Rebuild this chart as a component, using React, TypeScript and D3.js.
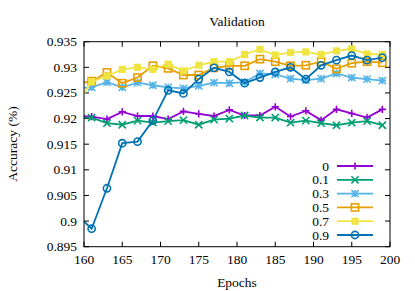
import React from "react";
import { scaleLinear, line, format, range } from "d3";

const epochs = [159, 161, 163, 165, 167, 169, 171, 173, 175, 177, 179, 181, 183, 185, 187, 189, 191, 193, 195, 197, 199];

const acc0 = [0.9205, 0.9204, 0.9199, 0.9213, 0.9205, 0.9205, 0.9199, 0.9214, 0.9209, 0.9205, 0.9217, 0.9206, 0.9206, 0.9223, 0.9204, 0.9215, 0.9197, 0.9218, 0.921, 0.9202, 0.9218];
const acc01 = [0.9202, 0.9202, 0.9191, 0.9188, 0.9196, 0.9192, 0.9195, 0.9197, 0.9188, 0.9198, 0.92, 0.9206, 0.9202, 0.9202, 0.9192, 0.9196, 0.9191, 0.9187, 0.9192, 0.9195, 0.9187];
const acc03 = [0.926, 0.9261, 0.9271, 0.9261, 0.927, 0.9265, 0.9261, 0.9259, 0.9264, 0.927, 0.9269, 0.9271, 0.9288, 0.9286, 0.9278, 0.9275, 0.9278, 0.9288, 0.928, 0.9277, 0.9274];
const acc05 = [0.9267, 0.9273, 0.929, 0.9269, 0.928, 0.9303, 0.9298, 0.9285, 0.9285, 0.9299, 0.9303, 0.9303, 0.9316, 0.9311, 0.9303, 0.9304, 0.9311, 0.9297, 0.9308, 0.9311, 0.9309];
const acc07 = [0.9226, 0.9272, 0.9283, 0.9296, 0.93, 0.9296, 0.9306, 0.9293, 0.9304, 0.9311, 0.9311, 0.9325, 0.9335, 0.9324, 0.9329, 0.933, 0.9325, 0.9332, 0.9336, 0.9326, 0.9325];
const acc09 = [0.9013, 0.8985, 0.9064, 0.9152, 0.9155, 0.9196, 0.9255, 0.9249, 0.9277, 0.9299, 0.9291, 0.9269, 0.928, 0.9291, 0.93, 0.9277, 0.9304, 0.9314, 0.9323, 0.9314, 0.9319];

const seriesNames = ["0", "0.1", "0.3", "0.5", "0.7", "0.9"];
const seriesValues = [acc0, acc01, acc03, acc05, acc07, acc09];
const seriesColors = ["#9400d3", "#009e73", "#56b4e9", "#e69f00", "#f0e442", "#0072b2"];
const seriesMarkers = ["plus", "cross", "star", "square", "filledSquare", "circle"];

const xTicks = range(160, 201, 5);
const yTicks = range(0, 9).map((i) => +(0.895 + i * 0.005).toFixed(3));

const FONT = "'Liberation Serif', 'Times New Roman', serif";

const Marker = ({ type, x, y, c }) => {
  const s = 3.6;
  const sw = 1.6;
  if (type === "plus")
    return <path d={`M${x - s},${y}H${x + s}M${x},${y - s}V${y + s}`} stroke={c} strokeWidth={sw} fill="none" />;
  if (type === "cross")
    return <path d={`M${x - s},${y - s}L${x + s},${y + s}M${x - s},${y + s}L${x + s},${y - s}`} stroke={c} strokeWidth={sw} fill="none" />;
  if (type === "star")
    return (
      <path
        d={`M${x - s},${y}H${x + s}M${x},${y - s}V${y + s}M${x - s},${y - s}L${x + s},${y + s}M${x - s},${y + s}L${x + s},${y - s}`}
        stroke={c}
        strokeWidth={sw}
        fill="none"
      />
    );
  if (type === "square")
    return <rect x={x - s} y={y - s} width={2 * s} height={2 * s} stroke={c} strokeWidth={sw} fill="none" />;
  if (type === "filledSquare")
    return <rect x={x - s} y={y - s} width={2 * s} height={2 * s} fill={c} />;
  return <circle cx={x} cy={y} r={s} stroke={c} strokeWidth={sw} fill="none" />;
};

export default function App() {
  const left = 84;
  const right = 390;
  const top = 41.7;
  const bottom = 246.7;

  const xScale = scaleLinear().domain([160, 200]).range([left, right]);
  const yScale = scaleLinear().domain([0.895, 0.935]).range([bottom, top]);
  const fmt = format("~g");
  const tick = 5;

  const legendX = 329;
  const legendY0 = 166;
  const legendStep = 13.8;

  return (
    <svg width={415} height={291} style={{ position: "absolute", left: 0, top: 0, background: "#fff" }} fontFamily={FONT} fontSize={13.5}>
      <defs>
        <clipPath id="plotClip">
          <rect x={left} y={top} width={right - left} height={bottom - top} />
        </clipPath>
      </defs>

      {/* ticks, mirrored on all sides */}
      {yTicks.map((t) => (
        <g key={"y" + t}>
          <line x1={left} x2={left + tick} y1={yScale(t)} y2={yScale(t)} stroke="#000" />
          <line x1={right} x2={right - tick} y1={yScale(t)} y2={yScale(t)} stroke="#000" />
          <text x={left - 7} y={yScale(t)} textAnchor="end" dominantBaseline="central">
            {fmt(t)}
          </text>
        </g>
      ))}
      {xTicks.map((t) => (
        <g key={"x" + t}>
          <line x1={xScale(t)} x2={xScale(t)} y1={bottom} y2={bottom - tick} stroke="#000" />
          <line x1={xScale(t)} x2={xScale(t)} y1={top} y2={top + tick} stroke="#000" />
          <text x={xScale(t)} y={bottom + 13} textAnchor="middle" dominantBaseline="central">
            {t}
          </text>
        </g>
      ))}

      <g clipPath="url(#plotClip)">
        {seriesValues.map((vals, i) => {
          const pts = vals.map((v, j) => [xScale(epochs[j]), yScale(v)]);
          return (
            <g key={seriesNames[i]}>
              <path d={line()(pts)} fill="none" stroke={seriesColors[i]} strokeWidth={1.8} />
              {pts.map(([px, py], j) => (
                <Marker key={j} type={seriesMarkers[i]} x={px} y={py} c={seriesColors[i]} />
              ))}
            </g>
          );
        })}
      </g>

      {/* legend */}
      {seriesNames.map((name, i) => {
        const ly = legendY0 + i * legendStep;
        return (
          <g key={"leg" + name}>
            <text x={legendX} y={ly} textAnchor="end" dominantBaseline="central">
              {name}
            </text>
            <line x1={337} x2={373} y1={ly} y2={ly} stroke={seriesColors[i]} strokeWidth={1.8} />
            <Marker type={seriesMarkers[i]} x={355} y={ly} c={seriesColors[i]} />
          </g>
        );
      })}

      <rect x={left} y={top} width={right - left} height={bottom - top} fill="none" stroke="#000" />

      <text x={237} y={21} textAnchor="middle" dominantBaseline="central">
        Validation
      </text>
      <text x={237} y={282} textAnchor="middle" dominantBaseline="central">
        Epochs
      </text>
      <text transform="translate(12,144) rotate(-90)" textAnchor="middle" dominantBaseline="central">
        Accuracy (%)
      </text>
    </svg>
  );
}
